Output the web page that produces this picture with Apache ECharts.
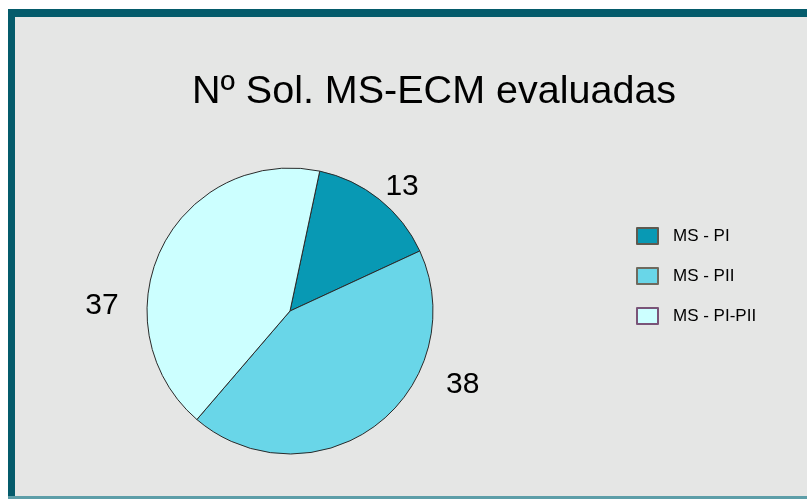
<!DOCTYPE html>
<html>
<head>
<meta charset="utf-8">
<script src="https://cdn.jsdelivr.net/npm/echarts@6/dist/echarts.min.js"></script>
<style>
  html, body { margin: 0; padding: 0; background: #fff; }
  #chart { width: 807px; height: 499px; }
</style>
</head>
<body>
<div id="chart"></div>
<script>
// datos del gráfico
const titleText = "Nº Sol. MS-ECM evaluadas";
const categories = ["MS - PI", "MS - PII", "MS - PI-PII"];
const values = [13, 38, 37];
const colors = ["#0899b4", "#69d6e8", "#ccffff"];
const legendBorders = ["#5e5a50", "#6e6a5e", "#7a5478"];

let chart = echarts.init(document.getElementById("chart"));

chart.setOption({
  backgroundColor: "#ffffff",
  animation: false,
  graphic: [
    // fondo gris
    { type: "rect", z: -10, shape: { x: 8, y: 9, width: 799, height: 490 }, style: { fill: "#e5e6e5" } },
    // borde superior
    { type: "rect", z: -9, shape: { x: 8, y: 9, width: 799, height: 8 }, style: { fill: "#045b6b" } },
    // borde izquierdo
    { type: "rect", z: -9, shape: { x: 8, y: 9, width: 7, height: 490 }, style: { fill: "#045b6b" } },
    // línea inferior
    { type: "rect", z: -9, shape: { x: 8, y: 496, width: 799, height: 3 }, style: { fill: "#5d9ea8" } },
  ],
  title: {
    text: titleText,
    left: 429,
    top: 67,
    textAlign: "center",
    textStyle: {
      fontFamily: "Liberation Sans, Arial, sans-serif",
      fontSize: 39.5,
      fontWeight: "normal",
      color: "#000",
    },
  },
  legend: {
    orient: "vertical",
    left: 631,
    top: 222,
    itemWidth: 21,
    itemHeight: 16,
    itemGap: 22,
    textStyle: {
      fontFamily: "Liberation Sans, Arial, sans-serif",
      fontSize: 17,
      color: "#000",
      padding: [0, 0, 0, 10],
    },
    data: categories.map((c, i) => ({
      name: c,
      icon: "rect",
      itemStyle: { borderColor: legendBorders[i], borderWidth: 2 },
    })),
  },
  series: [
    {
      type: "pie",
      center: [290, 311],
      radius: 143,
      startAngle: 78,
      clockwise: true,
      avoidLabelOverlap: false,
      itemStyle: {
        borderColor: "#2a2a2a",
        borderWidth: 1,
      },
      label: {
        show: true,
        position: "outside",
        formatter: "{c}",
        fontFamily: "Liberation Sans, Arial, sans-serif",
        fontSize: 30,
        color: "#000",
      },
      labelLine: { show: false, length: 18, length2: 0 },
      // desplazamiento de etiquetas como en el original
      labelLayout: function (params) {
        const shifts = [[-10, 2], [54, -55], [-22, 66]];
        const s = shifts[params.dataIndex];
        return { dx: s[0], dy: s[1] };
      },
      emphasis: { disabled: true },
      data: categories.map((c, i) => ({
        name: c,
        value: values[i],
        itemStyle: { color: colors[i] },
      })),
    },
  ],
});

window.addEventListener("resize", () => {
  chart.resize();
});
</script>
</body>
</html>
